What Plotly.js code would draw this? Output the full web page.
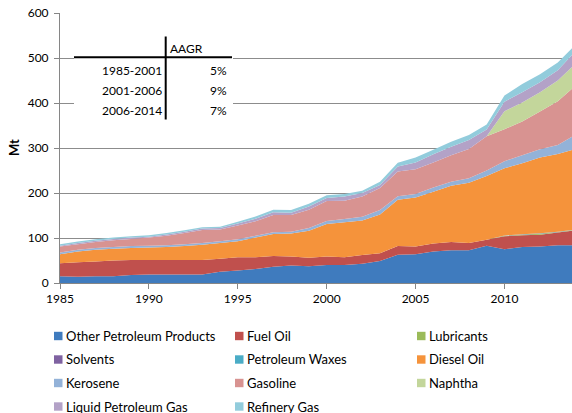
<!DOCTYPE html>
<html>
<head>
<meta charset="utf-8">
<script src="https://cdn.plot.ly/plotly-3.0.1.min.js"></script>
<style>html,body{margin:0;padding:0;background:#fff;overflow:hidden}#chart{width:572px;height:413px}</style>
</head>
<body>
<div id="chart"></div>
<script>
const years = [1985,1986,1987,1988,1989,1990,1991,1992,1993,1994,1995,1996,1997,1998,1999,2000,2001,2002,2003,2004,2005,2006,2007,2008,2009,2010,2011,2012,2013,2014];

const seriesNames = ["Other Petroleum Products","Fuel Oil","Lubricants","Solvents","Petroleum Waxes","Diesel Oil","Kerosene","Gasoline","Naphtha","Liquid Petroleum Gas","Refinery Gas"];
const seriesColors = ["#3F7BBE","#C0504D","#9BBB59","#7F62A1","#4AACC6","#F5933B","#93B2D8","#D89391","#C3D69B","#B3A2C7","#92CCDC"];

const otherPetroleum = [15,14,15,15,18,19,19,19,19,25,28,31,36,39,37,40,40,43,49,63,64,70,73,73,83,75,80,81,84,84];
const fuelOil        = [29,32,33,35,33,32,32,32,32,29,29,26,24,20,19,19,17,19,17,19,17,18,18,16,13,29,26,26,28,33];
const lubricants     = [0,0,0,0,0,0,0,0,0,0,0,0,0,0,0,0,0,0,0,0,0,0,0,0,0,1,1.5,2.5,1,1];
const solvents       = [0,0,0,0,0,0,0,0,0,0,0,0,0,0,0,0,0,0,0,0,0,0,0,0,0,0.5,0.5,0.6,0.5,0.5];
const waxes          = [0,0,0,0,0,0,0,0,0,0,0,0,0,0,0,0,0,0,0,0,0,0,0,0,0,0.3,0.5,0.4,0.3,0.3];
const dieselOil      = [20,24,26,26,27,28,29,31,34,35,36,44,49,51,60,72,78,77,86,103,109,115,125,134,142,149,157.5,168.5,173,179];
const kerosene       = [4,4,4,4,4,4,4,4,4,4,4,4,4,4,6,7,7,8,10,8,8,9,9,10,12,16,18,18,20,32];
const gasoline       = [13,12,13,15,16,18,21,25,29,26,31,32,38,37,41,44,41,45,49,55,55,56,59,65,76,71,75,84,97,109];
const naphtha        = [0,0,0,0,0,0,0,0,0,0,0,0,0,0,0,0,0,0,0,0,0,0,0,0,0,40,42,43,46,49];
const lpg            = [2,3,3,3,3,2,3,3,3,3,4,6,6,5,7,7,9,8,7,11,15,18,19,20,15,21,23,22,23,27];
const refineryGas    = [3,3,3,3,3,3,3,3,3,3,4,5,6,6,6,6,6,5,7,8,11,10,11,11,11,14,18,18,17,15];

const seriesValues = [otherPetroleum,fuelOil,lubricants,solvents,waxes,dieselOil,kerosene,gasoline,naphtha,lpg,refineryGas];

const yAxisTitle = "Mt";
const tableHeader = "AAGR";
const tablePeriods = ["1985-2001","2001-2006","2006-2014"];
const tableRates = ["5%","9%","7%"];

const FONT = "Lato, 'Liberation Sans', Arial, sans-serif";
const W = 572, H = 413;
const M = {l:60, r:0, t:13, b:130};
const PW = W - M.l - M.r, PH = H - M.t - M.b;
const px = x => (x - M.l) / PW;
const py = y => (H - M.b - y) / PH;

const traces = seriesNames.map((n,i) => ({
  x: years, y: seriesValues[i], name: n, type: 'scatter', mode: 'none',
  stackgroup: 'one', fillcolor: seriesColors[i], hoverinfo: 'skip'
}));

const shapes = [];
const annotations = [];

// Y axis title
annotations.push({xref:'paper', yref:'paper', x:px(14), y:py(148), text:'<b>' + yAxisTitle + '</b>', textangle:-90, showarrow:false, xanchor:'center', yanchor:'middle', font:{family:FONT, size:13, color:'#000'}});

// AAGR table
shapes.push({type:'rect', xref:'paper', yref:'paper', x0:px(74), x1:px(233), y0:py(121), y1:py(34), fillcolor:'#ffffff', line:{width:0}, layer:'above'});
shapes.push({type:'line', xref:'paper', yref:'paper', x0:px(74), x1:px(232), y0:py(57.3), y1:py(57.3), line:{color:'#000', width:2}, layer:'above'});
shapes.push({type:'line', xref:'paper', yref:'paper', x0:px(165.7), x1:px(165.7), y0:py(36.5), y1:py(119.5), line:{color:'#000', width:2}, layer:'above'});
annotations.push({xref:'paper', yref:'paper', x:px(168), y:py(48), text:tableHeader, showarrow:false, xanchor:'left', yanchor:'middle', font:{family:FONT, size:12, color:'#000'}});
const rowY = [70, 90, 110];
tablePeriods.forEach((p,i) => {
  annotations.push({xref:'paper', yref:'paper', x:px(164), y:py(rowY[i]), text:p, showarrow:false, xanchor:'right', yanchor:'middle', font:{family:FONT, size:12, color:'#000'}});
  annotations.push({xref:'paper', yref:'paper', x:px(229), y:py(rowY[i]), text:tableRates[i], showarrow:false, xanchor:'right', yanchor:'middle', font:{family:FONT, size:12, color:'#000'}});
});

// Legend (3 columns, row-major)
const colSq = [54, 235, 417];
const legRowY = [336, 359.5, 383, 406.5];
seriesNames.forEach((n,i) => {
  const c = i % 3, r = Math.floor(i / 3);
  const x0 = colSq[c], yc = legRowY[r];
  shapes.push({type:'rect', xref:'paper', yref:'paper', x0:px(x0), x1:px(x0+8.5), y0:py(yc+4.2), y1:py(yc-4.2), fillcolor:seriesColors[i], line:{width:0}});
  annotations.push({xref:'paper', yref:'paper', x:px(x0+10), y:py(yc), text:n, showarrow:false, xanchor:'left', yanchor:'middle', font:{family:FONT, size:13, color:'#000'}});
});

const layout = {
  width: W, height: H,
  margin: M,
  paper_bgcolor: '#fff', plot_bgcolor: '#fff',
  showlegend: false,
  font: {family: FONT, size: 12, color: '#000'},
  xaxis: {
    range: [1985, 2013.8], tickvals: [1985,1990,1995,2000,2005,2010],
    ticks: 'outside', ticklen: 5, tickcolor: '#868686', tickwidth: 1,
    showline: true, linecolor: '#868686', linewidth: 1, showgrid: false, zeroline: false,
    tickfont: {family: FONT, size: 12, color: '#000'}, fixedrange: true
  },
  yaxis: {
    range: [0, 600], dtick: 100, tick0: 0,
    ticks: 'outside', ticklen: 5, tickcolor: '#868686', tickwidth: 1, ticklabelstandoff: 3,
    showline: true, linecolor: '#868686', linewidth: 1,
    showgrid: true, gridcolor: '#8c8c8c', gridwidth: 1, zeroline: false,
    tickfont: {family: FONT, size: 12, color: '#000'},
    fixedrange: true
  },
  shapes: shapes,
  annotations: annotations
};

Plotly.newPlot('chart', traces, layout, {displayModeBar: false, staticPlot: true});
</script>
</body>
</html>
